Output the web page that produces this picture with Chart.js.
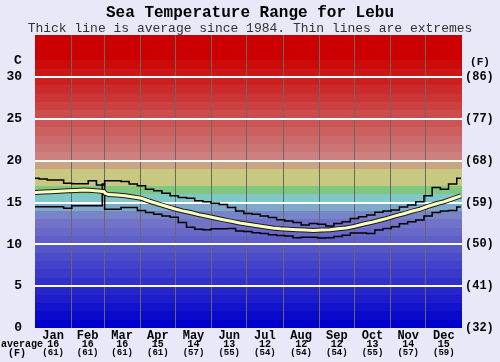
<!DOCTYPE html>
<html>
<head>
<meta charset="utf-8">
<script src="https://cdn.jsdelivr.net/npm/chart.js@4.4.1/dist/chart.umd.min.js"></script>
<style>
  body { margin: 0; background: #e8e8f8; }
  #chart { display: block; }
</style>
</head>
<body>
<canvas id="chart" width="500" height="362"></canvas>
<script>
// month names and the averages printed under the axis
const months = ['Jan', 'Feb', 'Mar', 'Apr', 'May', 'Jun', 'Jul', 'Aug', 'Sep', 'Oct', 'Nov', 'Dec'];
const monthStarts = [0, 31, 59, 90, 120, 151, 181, 212, 243, 273, 304, 334, 365];
const avgLabelsC = ['16', '16', '16', '15', '14', '13', '12', '12', '12', '13', '14', '15'];
const avgLabelsF = ['(61)', '(61)', '(61)', '(61)', '(57)', '(55)', '(54)', '(54)', '(54)', '(55)', '(57)', '(59)'];
const yTicks = [0, 5, 10, 15, 20, 25, 30];
const fTickLabels = ['(32)', '(41)', '(50)', '(59)', '(68)', '(77)', '(86)'];

// day of year for each reading
const days = [0, 7, 14, 21, 28, 35, 42, 49, 56, 59, 60, 63, 70, 77, 84, 91, 98, 105, 112, 119,
    126, 133, 140, 147, 154, 161, 168, 175, 182, 189, 196, 203, 210, 217, 224, 231, 238, 245,
    252, 259, 266, 273, 280, 287, 294, 301, 308, 315, 322, 329, 336, 343, 350, 357, 364];
// highest temperature recorded (C)
const maxTemp = [17.9, 17.8, 17.7, 17.7, 17.3, 17.25, 17.25, 17.6, 17.1, 17.1, 17.6,
    17.6, 17.6, 17.5, 17.2, 17.0, 16.6, 16.4, 16.1, 15.8, 15.6, 15.5, 15.2, 15.1, 14.9,
    14.75, 14.4, 14.0, 13.7, 13.6, 13.4, 13.2, 12.95, 12.8, 12.6, 12.3, 12.5, 12.4, 12.2,
    12.5, 12.7, 13.1, 13.3, 13.5, 13.85, 14.0, 14.1, 14.45, 14.7, 15.1, 15.8, 16.8, 16.6,
    17.2, 17.9];
// average since 1984 (C)
const avgTemp = [16.2, 16.25, 16.3, 16.35, 16.4, 16.45, 16.5, 16.45, 16.35, 16.3, 16.1,
    15.95, 15.9, 15.8, 15.65, 15.5, 15.15, 14.85, 14.55, 14.25, 14.0, 13.8, 13.55, 13.35,
    13.15, 12.95, 12.75, 12.55, 12.4, 12.25, 12.1, 11.95, 11.85, 11.8, 11.75, 11.7, 11.65,
    11.7, 11.75, 11.85, 11.95, 12.15, 12.4, 12.6, 12.85, 13.1, 13.4, 13.65, 13.95, 14.2,
    14.55, 14.85, 15.1, 15.45, 15.8];
// lowest temperature recorded (C)
const minTemp = [14.5, 14.5, 14.5, 14.5, 14.3, 14.6, 14.6, 14.6, 14.6, 17.2, 14.2,
    14.2, 14.2, 14.4, 14.4, 14.05, 13.8, 13.6, 13.4, 13.25, 12.6, 12.05, 11.8, 11.75, 11.85,
    11.85, 11.9, 11.6, 11.55, 11.4, 11.3, 11.15, 11.05, 11.0, 10.8, 10.85, 10.85, 10.75, 10.8,
    10.95, 11.1, 11.35, 11.35, 11.3, 11.7, 11.9, 12.1, 12.45, 12.7, 12.9, 13.4, 13.8, 14.0,
    14.05, 14.45];

const FONT = "'Liberation Mono', 'Courier New', monospace";

function toPoints(values) {
    return days.map((d, i) => ({ x: d, y: values[i] }));
}

// colour of the 1 degree band starting at t
function bandColor(t) {
    if (t <= 12) {
        const v = Math.round(t * 9.5);
        return 'rgb(' + v + ',' + v + ',' + (204 - Math.round(t * 0.3)) + ')';
    }
    const mid = {
        13: 'rgb(120,132,200)', 14: 'rgb(128,168,200)', 15: 'rgb(128,200,200)',
        16: 'rgb(128,200,128)', 17: 'rgb(200,200,128)', 18: 'rgb(200,200,128)',
        19: 'rgb(200,164,128)'
    };
    if (mid[t]) return mid[t];
    const g = Math.max(0, Math.round(128 * (32 - t) / 12));
    return 'rgb(204,' + g + ',' + g + ')';
}

const bandPlugin = {
    id: 'bands',
    beforeDraw(chart) {
        const { ctx, chartArea: a } = chart;
        const y = chart.scales.y;
        ctx.save();
        for (let t = 0; t < 35; t++) {
            const top = Math.round(y.getPixelForValue(t + 1));
            const bottom = Math.round(y.getPixelForValue(t));
            ctx.fillStyle = bandColor(t);
            ctx.fillRect(a.left, top, a.right - a.left, bottom - top);
        }
        ctx.restore();
    },
    afterDraw(chart) {
        const { ctx } = chart;
        const x = chart.scales.x2;
        ctx.save();
        ctx.fillStyle = '#000';
        ctx.textAlign = 'center';
        ctx.textBaseline = 'middle';
        ctx.font = 'bold 13px ' + FONT;
        ctx.fillText('C', 18, 61);
        ctx.font = 'bold 11px ' + FONT;
        ctx.fillText('(F)', 480, 62);
        ctx.font = 'bold 10px ' + FONT;
        ctx.fillText('average', 22, 344);
        ctx.fillText('(F)', 17, 353);
        months.forEach((m, i) => {
            const px = x.getPixelForValue((monthStarts[i] + monthStarts[i + 1]) / 2);
            ctx.font = 'bold 10px ' + FONT;
            ctx.fillText(avgLabelsC[i], px, 344);
            ctx.font = 'bold 9px ' + FONT;
            ctx.fillText(avgLabelsF[i], px, 353);
        });
        ctx.restore();
    }
};

new Chart(document.getElementById('chart'), {
    type: 'line',
    data: {
        datasets: [{
            label: 'Average',
            data: toPoints(avgTemp),
            borderColor: '#ffffc0',
            borderWidth: 3,
            pointRadius: 0,
            order: 0
        }, {
            label: 'Average outline',
            data: toPoints(avgTemp),
            borderColor: '#1a1a1a',
            borderWidth: 5,
            pointRadius: 0,
            order: 1
        }, {
            label: 'Max',
            data: toPoints(maxTemp),
            borderColor: '#000',
            borderWidth: 1.5,
            pointRadius: 0,
            stepped: 'middle',
            order: 2
        }, {
            label: 'Min',
            data: toPoints(minTemp),
            borderColor: '#000',
            borderWidth: 1.5,
            pointRadius: 0,
            stepped: 'middle',
            order: 3
        }]
    },
    options: {
        responsive: false,
        animation: false,
        events: [],
        layout: { padding: 0 },
        plugins: {
            legend: { display: false },
            tooltip: { enabled: false },
            title: {
                display: true,
                text: 'Sea Temperature Range for Lebu',
                color: '#000',
                font: { family: FONT, size: 16, weight: 'bold' },
                padding: { top: 3, bottom: 0 }
            },
            subtitle: {
                display: true,
                text: 'Thick line is average since 1984. Thin lines are extremes',
                color: '#333',
                font: { family: FONT, size: 13, lineHeight: 1 },
                padding: { top: 0, bottom: 0 }
            }
        },
        scales: {
            x: {
                type: 'linear',
                position: 'bottom',
                min: 0,
                max: 365,
                afterBuildTicks: (scale) => {
                    scale.ticks = monthStarts.slice(1, 12).map(v => ({ value: v }));
                },
                afterFit: (scale) => { scale.height = 0; },
                ticks: { display: false },
                grid: { color: '#686868', lineWidth: 1, drawTicks: false },
                border: { display: false }
            },
            x2: {
                type: 'linear',
                position: 'bottom',
                min: 0,
                max: 365,
                afterBuildTicks: (scale) => {
                    scale.ticks = months.map((m, i) => ({ value: (monthStarts[i] + monthStarts[i + 1]) / 2 }));
                },
                afterFit: (scale) => { scale.height = 34; },
                ticks: {
                    color: '#000',
                    padding: 1,
                    maxRotation: 0,
                    autoSkip: false,
                    font: { family: FONT, size: 12, weight: 'bold' },
                    callback: (v, i) => months[i]
                },
                grid: { display: false, drawTicks: false },
                border: { display: false }
            },
            y: {
                position: 'left',
                min: 0,
                max: 35,
                afterBuildTicks: (scale) => {
                    scale.ticks = yTicks.map(v => ({ value: v }));
                },
                afterFit: (scale) => { scale.width = 35; },
                ticks: {
                    color: '#000',
                    padding: 13,
                    font: { family: FONT, size: 13, weight: 'bold' }
                },
                grid: {
                    drawTicks: false,
                    lineWidth: 2,
                    color: (c) => (c.tick && c.tick.value > 0 ? '#ffffff' : 'rgba(0,0,0,0)')
                },
                border: { display: false }
            },
            y2: {
                position: 'right',
                min: 0,
                max: 35,
                afterBuildTicks: (scale) => {
                    scale.ticks = yTicks.map(v => ({ value: v }));
                },
                afterFit: (scale) => { scale.width = 38; },
                ticks: {
                    color: '#000',
                    padding: 3,
                    font: { family: FONT, size: 12, weight: 'bold' },
                    callback: (v, i) => fTickLabels[i]
                },
                grid: { display: false, drawTicks: false },
                border: { display: false }
            }
        }
    },
    plugins: [bandPlugin]
});
</script>
</body>
</html>
